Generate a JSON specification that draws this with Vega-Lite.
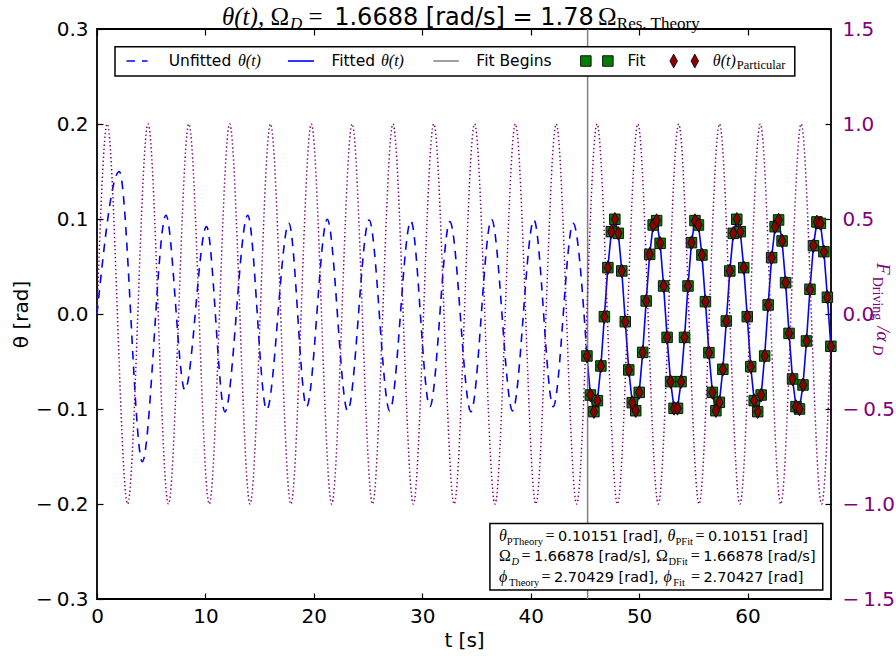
{
  "$schema": "https://vega.github.io/schema/vega-lite/v6.json",
  "width": 734,
  "height": 570,
  "autosize": {"type": "none"},
  "padding": {"left": 97, "top": 29, "right": 65, "bottom": 60},
  "background": "white",
  "config": {
    "view": {"stroke": "black", "strokeWidth": 1.8},
    "axis": {"grid": false, "domain": false, "tickColor": "black", "tickSize": -6, "tickWidth": 1.2, "labelFont": "DejaVu Sans", "labelFontSize": 20, "labelColor": "black", "labelFlush": false, "titleFont": "DejaVu Sans", "titleFontSize": 20, "titleFontWeight": "normal", "titleColor": "black"},
    "style": {
      "lg": {"font": "DejaVu Sans", "fontSize": 15.5, "align": "left", "baseline": "middle", "color": "black"},
      "lgm": {"font": "Liberation Serif", "fontStyle": "italic", "fontSize": 16, "align": "left", "baseline": "middle", "color": "black"},
      "lgs": {"font": "Liberation Serif", "fontSize": 12.5, "align": "left", "baseline": "middle", "color": "black"},
      "bx": {"font": "DejaVu Sans", "fontSize": 14.5, "align": "left", "baseline": "alphabetic", "color": "black"},
      "bxm": {"font": "Liberation Serif", "fontStyle": "italic", "fontSize": 16, "align": "left", "baseline": "alphabetic", "color": "black"},
      "bxr": {"font": "Liberation Serif", "fontSize": 16, "align": "left", "baseline": "alphabetic", "color": "black"},
      "bxs": {"font": "Liberation Serif", "fontSize": 10.5, "align": "left", "baseline": "alphabetic", "color": "black"},
      "tt": {"font": "DejaVu Sans", "fontSize": 24, "align": "left", "baseline": "alphabetic", "color": "black"},
      "tm": {"font": "Liberation Serif", "fontStyle": "italic", "fontSize": 25, "align": "left", "baseline": "alphabetic", "color": "black"},
      "tr": {"font": "Liberation Serif", "fontSize": 25, "align": "left", "baseline": "alphabetic", "color": "black"},
      "tsub": {"font": "Liberation Serif", "fontSize": 17, "align": "left", "baseline": "alphabetic", "color": "black"},
      "rt": {"font": "Liberation Serif", "fontStyle": "italic", "fontSize": 19, "align": "left", "baseline": "alphabetic", "angle": 90, "color": "#800080"},
      "rts": {"font": "Liberation Serif", "fontSize": 14, "align": "left", "baseline": "alphabetic", "angle": 90, "color": "#800080"}
    }
  },
  "datasets": {
    "drive": [
      {"t": 0, "F": 0}, {"t": 0.941, "F": 1}, {"t": 2.824, "F": -1}, {"t": 4.707, "F": 1}, {"t": 6.589, "F": -1},
      {"t": 8.472, "F": 1}, {"t": 10.354, "F": -1}, {"t": 12.237, "F": 1}, {"t": 14.119, "F": -1}, {"t": 16.002, "F": 1},
      {"t": 17.884, "F": -1}, {"t": 19.767, "F": 1}, {"t": 21.649, "F": -1}, {"t": 23.532, "F": 1}, {"t": 25.414, "F": -1},
      {"t": 27.297, "F": 1}, {"t": 29.179, "F": -1}, {"t": 31.062, "F": 1}, {"t": 32.944, "F": -1}, {"t": 34.827, "F": 1},
      {"t": 36.709, "F": -1}, {"t": 38.592, "F": 1}, {"t": 40.474, "F": -1}, {"t": 42.357, "F": 1}, {"t": 44.24, "F": -1},
      {"t": 46.122, "F": 1}, {"t": 48.005, "F": -1}, {"t": 49.887, "F": 1}, {"t": 51.77, "F": -1}, {"t": 53.652, "F": 1},
      {"t": 55.535, "F": -1}, {"t": 57.417, "F": 1}, {"t": 59.3, "F": -1}, {"t": 61.182, "F": 1}, {"t": 63.065, "F": -1},
      {"t": 64.947, "F": 1}, {"t": 66.83, "F": -1}, {"t": 67.7, "F": -0.12}
    ],
    "unfitted": [
      {"t": 0, "theta": 0}, {"t": 2.06, "theta": 0.15}, {"t": 4.18, "theta": -0.1555}, {"t": 6.36, "theta": 0.104},
      {"t": 8.11, "theta": -0.08}, {"t": 10.1, "theta": 0.092}, {"t": 11.8, "theta": -0.103}, {"t": 13.9, "theta": 0.104},
      {"t": 15.65, "theta": -0.101}, {"t": 17.7, "theta": 0.0955}, {"t": 19.33, "theta": -0.0976}, {"t": 21.24, "theta": 0.0997},
      {"t": 23.12, "theta": -0.102}, {"t": 25.1, "theta": 0.099}, {"t": 27.0, "theta": -0.102}, {"t": 28.95, "theta": 0.098},
      {"t": 30.7, "theta": -0.0976}, {"t": 32.55, "theta": 0.0972}, {"t": 34.49, "theta": -0.103}, {"t": 36.39, "theta": 0.0997},
      {"t": 38.33, "theta": -0.102}, {"t": 40.3, "theta": 0.099}, {"t": 42.08, "theta": -0.0976}, {"t": 43.92, "theta": 0.0955},
      {"t": 45.19, "theta": -0.044}
    ],
    "fit": [
      {"t": 45.19, "theta": -0.0442}, {"t": 45.511, "theta": -0.0853}, {"t": 45.833, "theta": -0.1028}, {"t": 46.154, "theta": -0.0912},
      {"t": 46.476, "theta": -0.0547}, {"t": 46.797, "theta": -0.0028}, {"t": 47.118, "theta": 0.0488}, {"t": 47.44, "theta": 0.0867},
      {"t": 47.761, "theta": 0.0997}, {"t": 48.083, "theta": 0.0849}, {"t": 48.404, "theta": 0.0453}, {"t": 48.725, "theta": -0.0081},
      {"t": 49.047, "theta": -0.0589}, {"t": 49.368, "theta": -0.0933}, {"t": 49.69, "theta": -0.1018}, {"t": 50.011, "theta": -0.0825},
      {"t": 50.332, "theta": -0.0404}, {"t": 50.654, "theta": 0.0137}, {"t": 50.975, "theta": 0.0628}, {"t": 51.297, "theta": 0.0937},
      {"t": 51.618, "theta": 0.0983}, {"t": 51.939, "theta": 0.0744}, {"t": 52.261, "theta": 0.0295}, {"t": 52.582, "theta": -0.0246},
      {"t": 52.904, "theta": -0.0712}, {"t": 53.225, "theta": -0.0993}, {"t": 53.546, "theta": -0.0993}, {"t": 53.868, "theta": -0.0712},
      {"t": 54.189, "theta": -0.0246}, {"t": 54.511, "theta": 0.0295}, {"t": 54.832, "theta": 0.0751}, {"t": 55.153, "theta": 0.0983},
      {"t": 55.475, "theta": 0.0937}, {"t": 55.796, "theta": 0.0621}, {"t": 56.118, "theta": 0.013}, {"t": 56.439, "theta": -0.0407},
      {"t": 56.76, "theta": -0.0825}, {"t": 57.082, "theta": -0.1018}, {"t": 57.403, "theta": -0.093}, {"t": 57.725, "theta": -0.0582},
      {"t": 58.046, "theta": -0.0074}, {"t": 58.367, "theta": 0.0453}, {"t": 58.689, "theta": 0.0849}, {"t": 59.01, "theta": 0.0997},
      {"t": 59.332, "theta": 0.0867}, {"t": 59.653, "theta": 0.0488}, {"t": 59.974, "theta": -0.0028}, {"t": 60.296, "theta": -0.0554},
      {"t": 60.617, "theta": -0.0912}, {"t": 60.939, "theta": -0.1028}, {"t": 61.26, "theta": -0.0853}, {"t": 61.581, "theta": -0.0442},
      {"t": 61.903, "theta": 0.0095}, {"t": 62.224, "theta": 0.0593}, {"t": 62.546, "theta": 0.0919}, {"t": 62.867, "theta": 0.099},
      {"t": 63.188, "theta": 0.0769}, {"t": 63.51, "theta": 0.033}, {"t": 63.831, "theta": -0.0204}, {"t": 64.153, "theta": -0.0684},
      {"t": 64.474, "theta": -0.0975}, {"t": 64.795, "theta": -0.1}, {"t": 65.117, "theta": -0.0747}, {"t": 65.438, "theta": -0.0284},
      {"t": 65.76, "theta": 0.026}, {"t": 66.081, "theta": 0.0719}, {"t": 66.402, "theta": 0.0969}, {"t": 66.724, "theta": 0.0954},
      {"t": 67.045, "theta": 0.0656}, {"t": 67.367, "theta": 0.0176}, {"t": 67.688, "theta": -0.034}
    ]
  },
  "layer": [
    {
      "layer": [
        {
          "data": {"name": "unfitted"},
          "mark": {"type": "line", "interpolate": "monotone", "color": "#0000ff", "strokeWidth": 1.6, "strokeDash": [8.5, 7]},
          "encoding": {
            "x": {"field": "t", "type": "quantitative", "scale": {"domain": [0, 67.7], "nice": false, "zero": false},
                  "axis": {"orient": "bottom", "values": [0, 10, 20, 30, 40, 50, 60], "format": "d", "title": "t [s]", "labelPadding": 13, "titlePadding": 4}},
            "y": {"field": "theta", "type": "quantitative", "scale": {"domain": [-0.3, 0.3], "nice": false, "zero": false},
                  "axis": {"orient": "left", "values": [-0.3, -0.2, -0.1, 0, 0.1, 0.2, 0.3], "labelExpr": "datum.value < -0.001 ? '−\u2009' + format(-datum.value, '.1f') : format(datum.value, '.1f')", "title": "θ [rad]", "labelPadding": 15, "titlePadding": 4}}
          }
        },
        {
          "data": {"name": "fit"},
          "mark": {"type": "line", "color": "#0000ff", "strokeWidth": 1.6},
          "encoding": {"x": {"field": "t", "type": "quantitative"}, "y": {"field": "theta", "type": "quantitative"}}
        },
        {
          "data": {"values": [{}]},
          "mark": {"type": "rule", "color": "#808080", "strokeWidth": 1.5},
          "encoding": {"x": {"datum": 45.25}}
        },
        {
          "data": {"name": "fit"},
          "mark": {"type": "point", "shape": "square", "filled": true, "size": 110, "fill": "#008000", "stroke": "#111111", "strokeWidth": 1, "opacity": 1},
          "encoding": {"x": {"field": "t", "type": "quantitative"}, "y": {"field": "theta", "type": "quantitative"}}
        },
        {
          "data": {"name": "fit"},
          "mark": {"type": "point", "shape": "M0,-1L0.55,0L0,1L-0.55,0Z", "filled": true, "size": 190, "fill": "#8b0000", "stroke": "black", "strokeWidth": 0.8, "opacity": 1},
          "encoding": {"x": {"field": "t", "type": "quantitative"}, "y": {"field": "theta", "type": "quantitative"}}
        },
        {
          "data": {"values": [{}]},
          "layer": [
            {"mark": {"type": "rect", "fill": "white", "stroke": "black", "strokeWidth": 1.5},
             "encoding": {"x": {"datum": 1.66}, "x2": {"datum": 64.36}, "y": {"datum": 0.2814}, "y2": {"datum": 0.2505}}},
            {"mark": {"type": "rule", "color": "#0000ff", "strokeWidth": 1.6, "strokeDash": [8.5, 7]},
             "encoding": {"x": {"datum": 2.72}, "x2": {"datum": 4.67}, "y": {"datum": 0.2663}}},
            {"mark": {"type": "rule", "color": "#0000ff", "strokeWidth": 1.6},
             "encoding": {"x": {"datum": 17.61}, "x2": {"datum": 20.01}, "y": {"datum": 0.2663}}},
            {"mark": {"type": "rule", "color": "#808080", "strokeWidth": 1.5},
             "encoding": {"x": {"datum": 31.03}, "x2": {"datum": 33.38}, "y": {"datum": 0.2663}}},
            {"mark": {"type": "point", "shape": "square", "filled": true, "size": 110, "fill": "#008000", "stroke": "#111111", "strokeWidth": 1, "opacity": 1},
             "encoding": {"x": {"datum": 45.09}, "y": {"datum": 0.2663}}},
            {"mark": {"type": "point", "shape": "square", "filled": true, "size": 110, "fill": "#008000", "stroke": "#111111", "strokeWidth": 1, "opacity": 1},
             "encoding": {"x": {"datum": 47.12}, "y": {"datum": 0.2663}}},
            {"mark": {"type": "point", "shape": "M0,-1L0.55,0L0,1L-0.55,0Z", "filled": true, "size": 190, "fill": "#8b0000", "stroke": "black", "strokeWidth": 0.8, "opacity": 1},
             "encoding": {"x": {"datum": 53.19}, "y": {"datum": 0.2663}}},
            {"mark": {"type": "point", "shape": "M0,-1L0.55,0L0,1L-0.55,0Z", "filled": true, "size": 190, "fill": "#8b0000", "stroke": "black", "strokeWidth": 0.8, "opacity": 1},
             "encoding": {"x": {"datum": 55.14}, "y": {"datum": 0.2663}}},
            {"mark": {"type": "text", "style": "lg", "text": "Unfitted"}, "encoding": {"x": {"datum": 6.62}, "y": {"datum": 0.2663}}},
            {"mark": {"type": "text", "style": "lgm", "text": "θ(t)"}, "encoding": {"x": {"datum": 13.0}, "y": {"datum": 0.2663}}},
            {"mark": {"type": "text", "style": "lg", "text": "Fitted"}, "encoding": {"x": {"datum": 21.62}, "y": {"datum": 0.2663}}},
            {"mark": {"type": "text", "style": "lgm", "text": "θ(t)"}, "encoding": {"x": {"datum": 26.19}, "y": {"datum": 0.2663}}},
            {"mark": {"type": "text", "style": "lg", "text": "Fit Begins"}, "encoding": {"x": {"datum": 34.99}, "y": {"datum": 0.2663}}},
            {"mark": {"type": "text", "style": "lg", "text": "Fit"}, "encoding": {"x": {"datum": 48.93}, "y": {"datum": 0.2663}}},
            {"mark": {"type": "text", "style": "lgm", "text": "θ(t)"}, "encoding": {"x": {"datum": 56.8}, "y": {"datum": 0.2663}}},
            {"mark": {"type": "text", "style": "lgs", "text": "Particular"}, "encoding": {"x": {"datum": 59.01}, "y": {"datum": 0.2622}}},

            {"mark": {"type": "rect", "fill": "white", "stroke": "black", "strokeWidth": 1.5},
             "encoding": {"x": {"datum": 36.24}, "x2": {"datum": 66.94}, "y": {"datum": -0.2205}, "y2": {"datum": -0.2905}}},
            {"mark": {"type": "text", "style": "bxm", "text": "θ"}, "encoding": {"x": {"datum": 37.07}, "y": {"datum": -0.2386}}},
            {"mark": {"type": "text", "style": "bxs", "text": "PTheory"}, "encoding": {"x": {"datum": 37.8}, "y": {"datum": -0.2428}}},
            {"mark": {"type": "text", "style": "bxr", "text": "="}, "encoding": {"x": {"datum": 41.37}, "y": {"datum": -0.2386}}},
            {"mark": {"type": "text", "style": "bx", "text": "0.10151 [rad],"}, "encoding": {"x": {"datum": 42.53}, "y": {"datum": -0.2386}}},
            {"mark": {"type": "text", "style": "bxm", "text": "θ"}, "encoding": {"x": {"datum": 52.62}, "y": {"datum": -0.2386}}},
            {"mark": {"type": "text", "style": "bxs", "text": "PFit"}, "encoding": {"x": {"datum": 53.36}, "y": {"datum": -0.2428}}},
            {"mark": {"type": "text", "style": "bxr", "text": "="}, "encoding": {"x": {"datum": 55.21}, "y": {"datum": -0.2386}}},
            {"mark": {"type": "text", "style": "bx", "text": "0.10151 [rad]"}, "encoding": {"x": {"datum": 56.36}, "y": {"datum": -0.2386}}},

            {"mark": {"type": "text", "style": "bxr", "text": "Ω"}, "encoding": {"x": {"datum": 37.07}, "y": {"datum": -0.2605}}},
            {"mark": {"type": "text", "style": "bxs", "text": "D", "fontStyle": "italic"}, "encoding": {"x": {"datum": 38.22}, "y": {"datum": -0.2647}}},
            {"mark": {"type": "text", "style": "bxr", "text": "="}, "encoding": {"x": {"datum": 39.15}, "y": {"datum": -0.2605}}},
            {"mark": {"type": "text", "style": "bx", "text": "1.66878 [rad/s],"}, "encoding": {"x": {"datum": 40.3}, "y": {"datum": -0.2605}}},
            {"mark": {"type": "text", "style": "bxr", "text": "Ω"}, "encoding": {"x": {"datum": 51.55}, "y": {"datum": -0.2605}}},
            {"mark": {"type": "text", "style": "bxs", "text": "DFit"}, "encoding": {"x": {"datum": 52.71}, "y": {"datum": -0.2647}}},
            {"mark": {"type": "text", "style": "bxr", "text": "="}, "encoding": {"x": {"datum": 54.76}, "y": {"datum": -0.2605}}},
            {"mark": {"type": "text", "style": "bx", "text": "1.66878 [rad/s]"}, "encoding": {"x": {"datum": 55.91}, "y": {"datum": -0.2605}}},

            {"mark": {"type": "text", "style": "bxm", "text": "ϕ"}, "encoding": {"x": {"datum": 37.07}, "y": {"datum": -0.2823}}},
            {"mark": {"type": "text", "style": "bxs", "text": "Theory"}, "encoding": {"x": {"datum": 38.0}, "y": {"datum": -0.2865}}},
            {"mark": {"type": "text", "style": "bxr", "text": "="}, "encoding": {"x": {"datum": 40.99}, "y": {"datum": -0.2823}}},
            {"mark": {"type": "text", "style": "bx", "text": "2.70429 [rad],"}, "encoding": {"x": {"datum": 42.15}, "y": {"datum": -0.2823}}},
            {"mark": {"type": "text", "style": "bxm", "text": "ϕ"}, "encoding": {"x": {"datum": 52.25}, "y": {"datum": -0.2823}}},
            {"mark": {"type": "text", "style": "bxs", "text": "Fit"}, "encoding": {"x": {"datum": 53.15}, "y": {"datum": -0.2865}}},
            {"mark": {"type": "text", "style": "bxr", "text": "="}, "encoding": {"x": {"datum": 54.78}, "y": {"datum": -0.2823}}},
            {"mark": {"type": "text", "style": "bx", "text": "2.70427 [rad]"}, "encoding": {"x": {"datum": 55.93}, "y": {"datum": -0.2823}}},

            {"mark": {"type": "text", "style": "tm", "text": "θ(t),"}, "encoding": {"x": {"datum": 11.53}, "y": {"datum": 0.3042}}},
            {"mark": {"type": "text", "style": "tr", "text": "Ω"}, "encoding": {"x": {"datum": 16.0}, "y": {"datum": 0.3042}}},
            {"mark": {"type": "text", "style": "tsub", "text": "D", "fontStyle": "italic"}, "encoding": {"x": {"datum": 17.8}, "y": {"datum": 0.2995}}},
            {"mark": {"type": "text", "style": "tr", "text": "="}, "encoding": {"x": {"datum": 19.51}, "y": {"datum": 0.3042}}},
            {"mark": {"type": "text", "style": "tt", "text": "1.6688 [rad/s] = 1.78"}, "encoding": {"x": {"datum": 21.88}, "y": {"datum": 0.3042}}},
            {"mark": {"type": "text", "style": "tr", "text": "Ω"}, "encoding": {"x": {"datum": 46.2}, "y": {"datum": 0.3042}}},
            {"mark": {"type": "text", "style": "tsub", "text": "Res. Theory"}, "encoding": {"x": {"datum": 47.95}, "y": {"datum": 0.2995}}},

            {"mark": {"type": "text", "style": "rt", "text": "F"}, "encoding": {"x": {"datum": 71.95}, "y": {"datum": 0.0537}}},
            {"mark": {"type": "text", "style": "rts", "text": "Driving"}, "encoding": {"x": {"datum": 71.6}, "y": {"datum": 0.0392}}},
            {"mark": {"type": "text", "style": "rt", "text": "/α"}, "encoding": {"x": {"datum": 71.95}, "y": {"datum": -0.0128}}},
            {"mark": {"type": "text", "style": "rts", "text": "D", "fontStyle": "italic"}, "encoding": {"x": {"datum": 71.6}, "y": {"datum": -0.0325}}}
          ]
        }
      ]
    },
    {
      "data": {"name": "drive"},
      "mark": {"type": "line", "interpolate": "monotone", "color": "#800080", "strokeWidth": 1.5, "strokeDash": [1.4, 2.6]},
      "encoding": {
        "x": {"field": "t", "type": "quantitative", "scale": {"domain": [0, 67.7], "nice": false, "zero": false},
              "axis": {"orient": "top", "values": [0, 10, 20, 30, 40, 50, 60], "labels": false, "title": null}},
        "y": {"field": "F", "type": "quantitative", "scale": {"domain": [-1.5, 1.5], "nice": false, "zero": false},
              "axis": {"orient": "right", "values": [-1.5, -1, -0.5, 0, 0.5, 1, 1.5], "labelExpr": "datum.value < -0.001 ? '−\u2009' + format(-datum.value, '.1f') : format(datum.value, '.1f')", "labelColor": "#800080", "title": null, "labelPadding": 17}}
      }
    }
  ],
  "resolve": {"scale": {"y": "independent"}, "axis": {"x": "independent", "y": "independent"}}
}
